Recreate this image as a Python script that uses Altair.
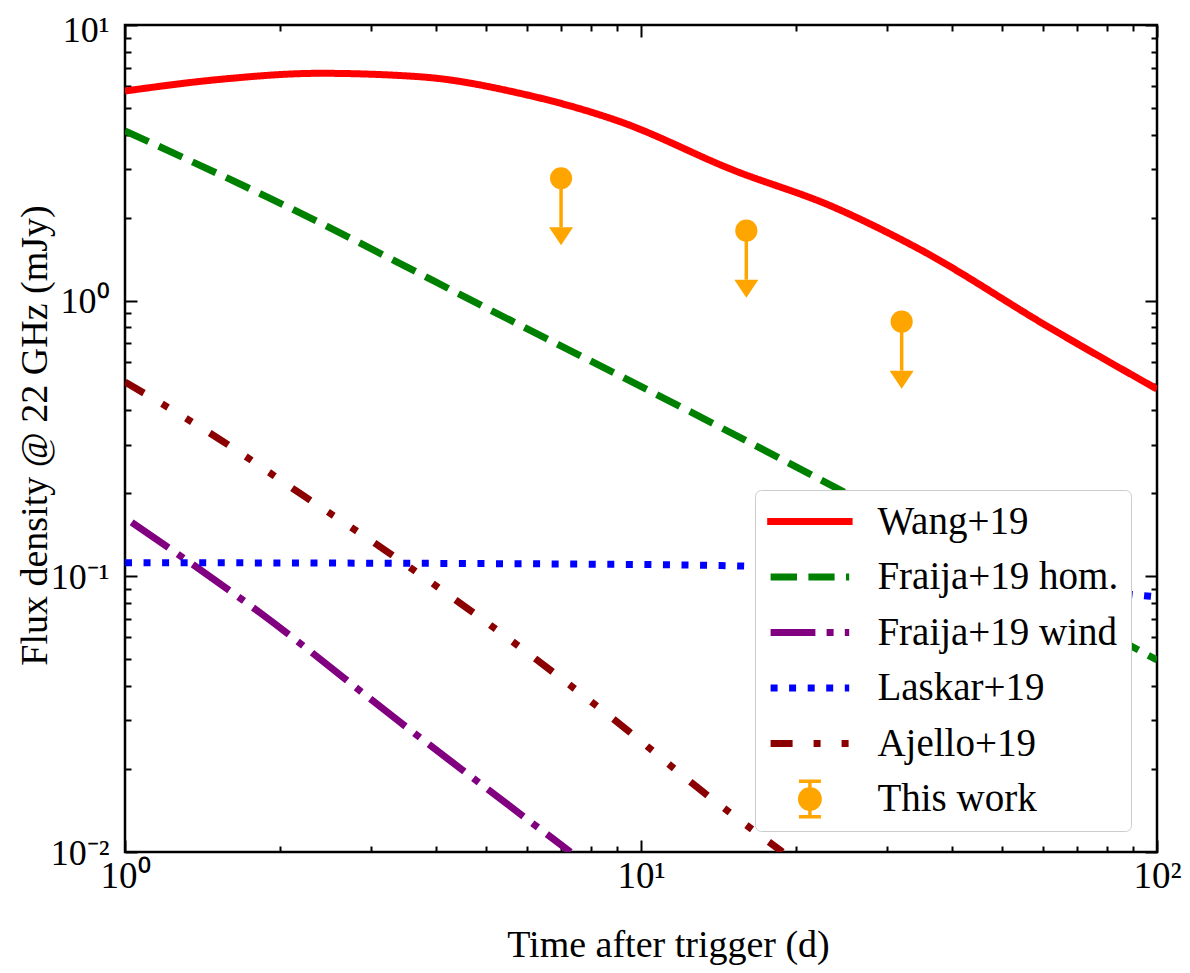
import math
import altair as alt
import pandas as pd

FONT = "Liberation Serif"

labels = ["Wang+19", "Fraija+19 hom.", "Fraija+19 wind", "Laskar+19", "Ajello+19", "This work"]
colors = ["#ff0000", "#008000", "#800080", "#0000ff", "#8b0000", "#ffa500"]
dashes = [[1, 0], [25.9, 11.2], [44.8, 11.2, 7, 11.2], [7, 11.55], [22, 21, 7, 21, 7, 21]]

wang_t = [1, 1.528, 2.388, 3.73, 5.83, 9.11, 15.07, 23.55, 34.3, 62.1, 100]
wang_f = [5.76, 6.35, 6.68, 6.49, 5.65, 4.46, 2.98, 2.19, 1.553, 0.796, 0.478]

hom_t = [1, 1.884, 5.57, 12.06, 100]
hom_f = [4.13, 2.38, 0.851, 0.408, 0.0497]

wind_t = [1.03, 1.83, 3.41, 7.3]
wind_f = [0.157, 0.0736, 0.0296, 0.0100]

laskar_t = [1, 8.6, 15.6, 100]
laskar_f = [0.1121, 0.1106, 0.1090, 0.0842]

ajello_t = [1, 1.53, 2.21, 3.22, 4.6, 9.4, 13.2, 18.8]
ajello_f = [0.507, 0.313, 0.197, 0.123, 0.0767, 0.0277, 0.0165, 0.0100]

obs_t = [7.0, 16.0, 32.0]
obs_f = [2.78, 1.795, 0.839]

x_major = [1, 10, 100]
y_major = [0.01, 0.1, 1, 10]
x_ticks = [m * 10 ** e for e in (0, 1) for m in range(1, 10)] + [100]
y_ticks = [round(m * 10.0 ** e, 6) for e in (-2, -1, 0) for m in range(1, 10)] + [10]

series = [
    (labels[0], wang_t, wang_f),
    (labels[1], hom_t, hom_f),
    (labels[2], wind_t, wind_f),
    (labels[3], laskar_t, laskar_f),
    (labels[4], ajello_t, ajello_f),
]
rows = []
for name, ts, fs in series:
    for t, f in zip(ts, fs):
        rows.append({"model": name, "t": t, "flux": f})
curves = pd.DataFrame(rows)
obs = pd.DataFrame({"t": obs_t, "flux": obs_f})
legend_df = pd.DataFrame({"model": labels})

W, H = 1032, 827
xscale = alt.Scale(type="log", domain=[1, 100], nice=False)
yscale = alt.Scale(type="log", domain=[0.01, 10], nice=False)

major_test = "abs(log(datum.value)/LN10 - round(log(datum.value)/LN10)) < 0.001"
tick_size = {"condition": {"test": major_test, "value": 12}, "value": 6}

x_label_axis = alt.Axis(
    orient="bottom", values=x_major,
    labelExpr="datum.value < 5 ? '10\u2070' : datum.value < 50 ? '10\u00b9' : '10\u00b2'",
    ticks=False, domain=False, grid=False, labelFlush=False,
    labelFont=FONT, labelFontSize=37, labelColor="black", labelPadding=6,
    title="Time after trigger (d)", titleFont=FONT, titleFontSize=38,
    titleFontWeight="normal", titleColor="black", titleX=543, titleY=93,
    titleBaseline="middle", titleAlign="center",
)
x_tick_bottom = alt.Axis(
    orient="top", offset=-H, values=x_ticks, labels=False, domain=False, grid=False,
    tickColor="black", tickWidth=2, tickSize=tick_size, title="",
)
x_tick_top = alt.Axis(
    orient="bottom", offset=-H, values=x_ticks, labels=False, domain=False, grid=False,
    tickColor="black", tickWidth=2, tickSize=tick_size, title="",
)
y_label_axis = alt.Axis(
    orient="left", values=y_major,
    labelExpr="datum.value < 0.05 ? '10\u207b\u00b2' : datum.value < 0.5 ? '10\u207b\u00b9' : datum.value < 5 ? '10\u2070' : '10\u00b9'",
    ticks=False, domain=False, grid=False, labelFlush=False,
    labelFont=FONT, labelFontSize=36, labelColor="black", labelPadding=16,
    labelBaseline="alphabetic",
    labelOffset={"condition": {"test": "datum.value > 5", "value": 16}, "value": 12},
    title="Flux density @ 22 GHz (mJy)", titleFont=FONT, titleFontSize=38,
    titleFontWeight="normal", titleColor="black", titleX=-90, titleY=410,
    titleBaseline="middle", titleAlign="center", titleAngle=270,
)
y_tick_left = alt.Axis(
    orient="right", offset=-W, values=y_ticks, labels=False, domain=False, grid=False,
    tickColor="black", tickWidth=2, tickSize=tick_size, title="",
)
y_tick_right = alt.Axis(
    orient="left", offset=-W, values=y_ticks, labels=False, domain=False, grid=False,
    tickColor="black", tickWidth=2, tickSize=tick_size, title="",
)

x_axes = [x_label_axis, x_tick_bottom, x_tick_top, None, None]
y_axes = [y_label_axis, y_tick_left, y_tick_right, None, None]

line_layers = []
for i in range(5):
    line_layers.append(
        alt.Chart(curves)
        .transform_filter(alt.datum.model == labels[i])
        .mark_line(strokeWidth=7, clip=True, interpolate="monotone",
                   color=colors[i], strokeDash=dashes[i])
        .encode(
            x=alt.X("t:Q", scale=xscale, axis=x_axes[i]),
            y=alt.Y("flux:Q", scale=yscale, axis=y_axes[i]),
        )
    )

stems = alt.Chart(obs).mark_rule(color="#ffa500", strokeWidth=3.5, y2Offset=49).encode(
    x=alt.X("t:Q", scale=xscale, axis=None),
    y=alt.Y("flux:Q", scale=yscale, axis=None),
    y2=alt.Y2("flux:Q"),
)

heads = alt.Chart(obs).mark_point(
    shape="M-1,-0.75L1,-0.75L0,0.75Z", filled=True, size=576, color="#ffa500",
    opacity=1, strokeWidth=0, yOffset=58,
).encode(
    x=alt.X("t:Q", scale=xscale, axis=None),
    y=alt.Y("flux:Q", scale=yscale, axis=None),
)

dots = alt.Chart(obs).mark_point(filled=True, size=490, color="#ffa500", opacity=1, shape="circle").encode(
    x=alt.X("t:Q", scale=xscale, axis=None),
    y=alt.Y("flux:Q", scale=yscale, axis=None),
)

# ---- legend glyphs (filled shapes, pixel sizes relative to glyph centre) ----
SYM_SIZE = 822
R = math.sqrt(SYM_SIZE) / 2


def bars(intervals, half=3.5):
    return "".join(
        f"M{a / R:.3f},{-half / R:.3f}H{b / R:.3f}V{half / R:.3f}H{a / R:.3f}Z"
        for a, b in intervals
    )


glyph_segments = [
    [(-42.7, 42.7)],
    [(-39.3, -12.9), (-1.5, 24.7), (36.1, 39.3)],
    [(-39.3, 5.5), (16.7, 23.7), (34.9, 39.3)],
    [(-39.3, -32.3), (-20.8, -13.8), (-2.2, 4.8), (16.3, 23.3), (34.9, 39.3)],
    [(-39.3, -17.3), (3.7, 10.7), (31.7, 38.7)],
]
disc = "M" + "L".join(
    f"{12 / R * math.cos(math.radians(a)):.3f},{12 / R * math.sin(math.radians(a)):.3f}"
    for a in range(0, 360, 15)
) + "Z"
this_work_symbol = (
    disc
    + "".join(
        f"M{-1.75 / R:.3f},{y0 / R:.3f}H{1.75 / R:.3f}V{y1 / R:.3f}H{-1.75 / R:.3f}Z"
        for y0, y1 in [(-16.5, -11), (11, 16.5)]
    )
    + "".join(
        f"M{-11 / R:.3f},{y0 / R:.3f}H{11 / R:.3f}V{y1 / R:.3f}H{-11 / R:.3f}Z"
        for y0, y1 in [(-19.5, -16), (16, 19.5)]
    )
)
legend_shapes = [bars(s) for s in glyph_segments] + [this_work_symbol]

leg = alt.Legend(
    orient="none", legendX=630, legendY=465, title=None, padding=12,
    fillColor="white", strokeColor="#cccccc", cornerRadius=6,
    labelFont=FONT, labelFontSize=39, labelColor="black", labelLimit=500,
    symbolSize=SYM_SIZE, symbolStrokeWidth=0, symbolOffset=23.4, labelOffset=48,
    rowPadding=15.5, symbolOpacity=1,
)

proxy = alt.Chart(legend_df).transform_filter("false").mark_point(
    filled=True, opacity=1, strokeWidth=0
).encode(
    fill=alt.Fill("model:N", scale=alt.Scale(domain=labels, range=colors), legend=leg),
    shape=alt.Shape("model:N", scale=alt.Scale(domain=labels, range=legend_shapes), legend=leg),
)

chart = alt.layer(*line_layers, stems, heads, dots, proxy).resolve_axis(
    x="independent", y="independent"
).properties(
    width=W, height=H,
    autosize=alt.AutoSizeParams(type="none"),
    padding={"left": 117, "top": 17, "right": 25, "bottom": 113},
).configure_view(stroke="black", strokeWidth=2.5)

chart.save("out.html", embed_options={"renderer": "svg", "actions": False})
